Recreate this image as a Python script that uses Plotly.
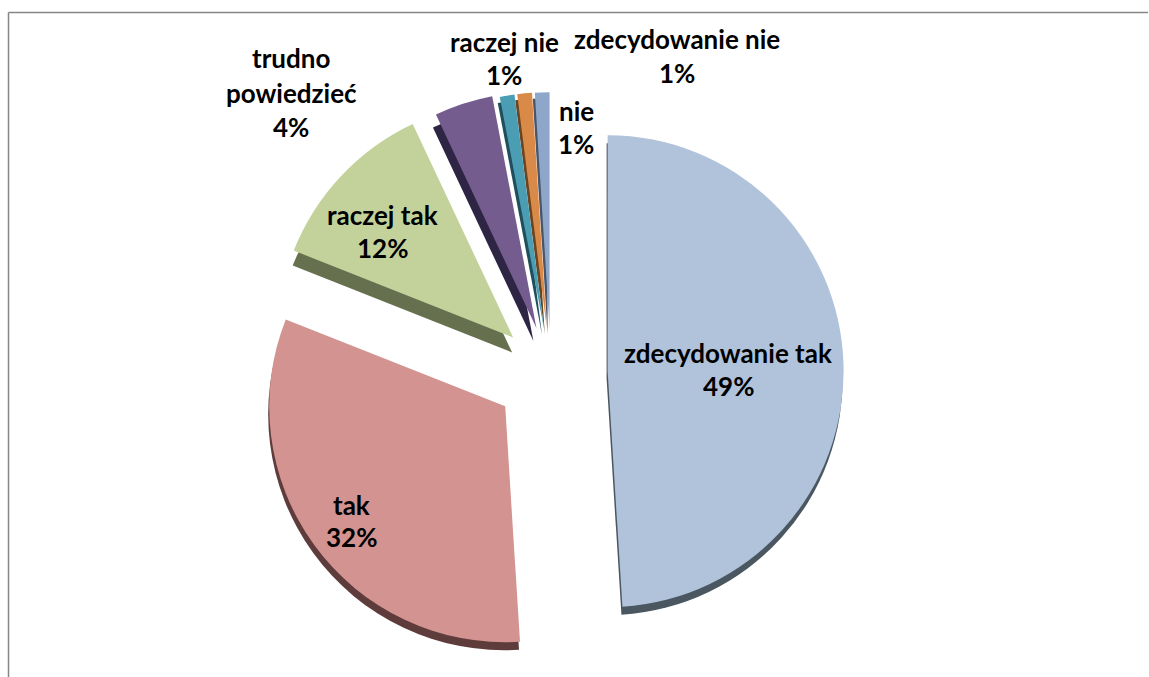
import plotly.graph_objects as go

categories = ["zdecydowanie tak", "tak", "raczej tak", "trudno powiedzieć", "raczej nie", "zdecydowanie nie", "nie"]
values = [49, 32, 12, 4, 1, 1, 1]
colors = ["#B0C3DB", "#D39391", "#C3D29B", "#755C8E", "#4A9DB3", "#D98A48", "#8FA6CB"]
depth_colors = ["#4A5660", "#5E3C3C", "#66704E", "#2E2444", "#1F4F5C", "#6A4522", "#4A5568"]
pulls = [0.24, 0.24, 0.22, 0.2, 0.19, 0.19, 0.19]

W, H = 1149, 677
CX, CY, R = 551, 373, 236
NONE = "rgba(0,0,0,0)"

# (slice indexes, dx, dy) of the extruded rim drawn under the pie
rim_groups = [([0, 1], -1, 8), ([2], -1, 15), ([3], -3, 13), ([4, 5, 6], -2, 6)]


def domain(p, dx=0, dy=0):
    half = R * (1 + max(p))
    return dict(
        x=[(CX + dx - half) / W, (CX + dx + half) / W],
        y=[1 - (CY + dy + half) / H, 1 - (CY + dy - half) / H],
    )


def pie(cols, p, dom, hover):
    return go.Pie(
        labels=categories, values=values, sort=False, direction="clockwise", rotation=0,
        pull=p, marker=dict(colors=cols, line=dict(width=0)), textinfo="none",
        hoverinfo="label+percent" if hover else "skip", showlegend=False, domain=dom,
    )


traces = []
for idx, dx, dy in rim_groups:
    p = [pulls[i] if i in idx else 0 for i in range(len(values))]
    c = [depth_colors[i] if i in idx else NONE for i in range(len(values))]
    traces.append(pie(c, p, domain(p, dx, dy), False))
traces.append(pie(colors, pulls, domain(pulls), True))
fig = go.Figure(traces)

# one (x, y) per text line, pixel anchors of each label
label_lines = [
    [("zdecydowanie tak", 728, 353), ("49%", 728, 386)],
    [("tak", 351, 505), ("32%", 351, 537)],
    [("raczej tak", 382, 215), ("12%", 382, 248)],
    [("trudno", 291, 58), ("powiedzieć", 291, 93), ("4%", 291, 127)],
    [("raczej nie", 504, 42), ("1%", 504, 75)],
    [("zdecydowanie nie", 677, 39), ("1%", 677, 73)],
    [("nie", 576, 111), ("1%", 576, 144)],
]
annotations = []
for lines in label_lines:
    for text, x, y in lines:
        annotations.append(dict(
            text=text, x=x / W, y=1 - y / H, xref="paper", yref="paper",
            xanchor="center", yanchor="middle", showarrow=False,
            font=dict(family="Lato", size=26, color="#000000", weight="bold"),
        ))

shapes = [
    dict(type="line", xref="paper", yref="paper", x0=8.5 / W, x1=1148 / W, y0=1 - 12.5 / H, y1=1 - 12.5 / H,
         line=dict(color="#868686", width=1.5)),
    dict(type="line", xref="paper", yref="paper", x0=8.5 / W, x1=8.5 / W, y0=1 - 12.5 / H, y1=0,
         line=dict(color="#868686", width=1.5)),
]

fig.update_layout(
    width=W, height=H, margin=dict(l=0, r=0, t=0, b=0),
    paper_bgcolor="#FFFFFF", annotations=annotations, shapes=shapes,
)
fig.write_html(
    "out.html",
    config={"displayModeBar": False},
    post_script="document.body.style.margin='0';document.documentElement.style.overflow='hidden';",
)
